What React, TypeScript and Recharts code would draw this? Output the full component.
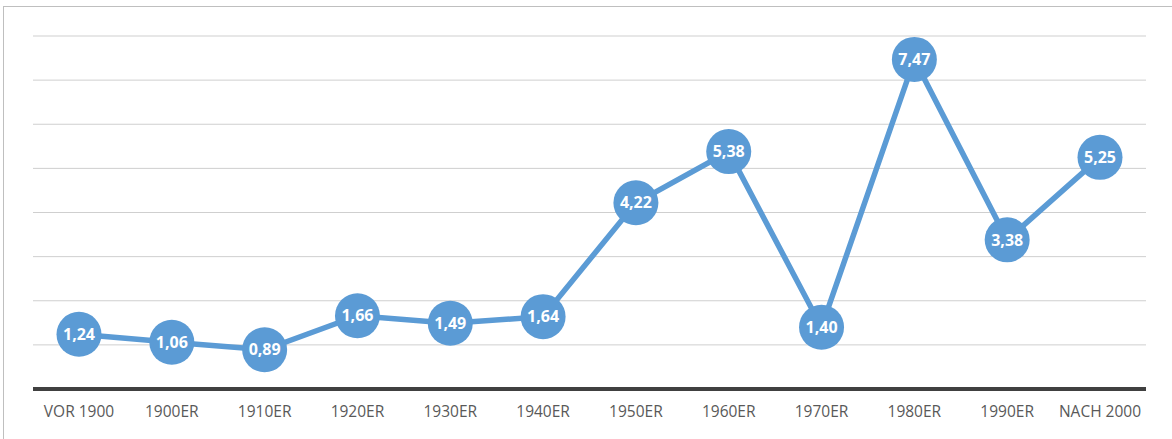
import { LineChart, Line, XAxis, YAxis, CartesianGrid, LabelList } from 'recharts';

const decades = ['VOR 1900', '1900ER', '1910ER', '1920ER', '1930ER', '1940ER', '1950ER', '1960ER', '1970ER', '1980ER', '1990ER', 'NACH 2000'];
const values = [1.24, 1.06, 0.89, 1.66, 1.49, 1.64, 4.22, 5.38, 1.4, 7.47, 3.38, 5.25];
const yTicks = [0, 1, 2, 3, 4, 5, 6, 7, 8];

const data = decades.map((name, i) => ({ name, wert: values[i] }));

const blue = '#5b9bd5';

export default function App() {
    return (
        <div style={{ position: 'absolute', left: 0, top: 0, width: 1172, height: 439, background: '#fff' }}>
            {/* Rahmen */}
            <div
                style={{
                    position: 'absolute',
                    left: 3,
                    top: 6,
                    width: 1180,
                    height: 450,
                    borderLeft: '1px solid #bfbfbf',
                    borderTop: '1px solid #bfbfbf',
                }}
            />
            <LineChart
                width={1172}
                height={439}
                data={data}
                margin={{ top: 36, right: 26, left: 33, bottom: 0 }}
                style={{ position: 'absolute', left: 0, top: 0 }}
            >
                <CartesianGrid vertical={false} stroke="#cfcfcf" strokeWidth={1} />
                <YAxis hide domain={[0, 8]} ticks={yTicks} />
                <XAxis
                    dataKey="name"
                    height={50}
                    padding={{ left: 46, right: 46 }}
                    axisLine={{ stroke: '#404040', strokeWidth: 4 }}
                    tickLine={false}
                    interval={0}
                    tick={{ fill: '#595959', fontSize: 15.5, fontFamily: 'Open Sans' }}
                    dy={9}
                />
                <Line
                    type="linear"
                    dataKey="wert"
                    stroke={blue}
                    strokeWidth={5.5}
                    dot={{ r: 22.5, fill: blue, stroke: 'none' }}
                    activeDot={false}
                    isAnimationActive={false}
                >
                    <LabelList
                        dataKey="wert"
                        position="center"
                        formatter={(v: any) => Number(v).toFixed(2).replace('.', ',')}
                        style={{ fill: '#fff', fontSize: 16, fontWeight: 700, fontFamily: 'Open Sans' }}
                    />
                </Line>
            </LineChart>
        </div>
    );
}
